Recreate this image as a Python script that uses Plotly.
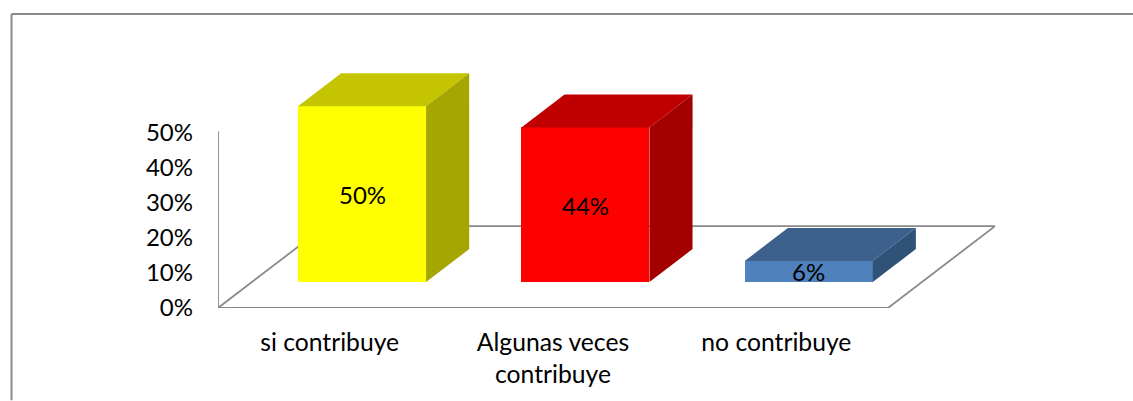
import plotly.graph_objects as go

categories = ["si contribuye", "Algunas veces<br>contribuye", "no contribuye"]
values = [50, 44, 6]
labels = ["50%", "44%", "6%"]
y_ticks = [0, 10, 20, 30, 40, 50]
y_tick_labels = ["0%", "10%", "20%", "30%", "40%", "50%"]
front_colors = ["#FFFF00", "#FF0000", "#4F81BD"]
top_colors = ["#C4C400", "#C00000", "#3C618D"]
side_colors = ["#A6A600", "#A30000", "#315278"]

W, H = 1133, 401
L, R, T, B = 218, 995, 14, 308.5
PX_X = 223.33          # pixels per category
PX_Y = 3.52            # pixels per percent
DX = 107 / PX_X        # floor depth in category units
DY = 82 / PX_Y         # floor depth in percent units
BAR_W = 128 / PX_X
BAR_NUDGE = -1.5 / PX_X
D0, D1 = 0.317, 0.72   # bar depth span as fraction of floor depth
LINE = "#8A8A8A"
FONT = "Lato, Carlito, Calibri, sans-serif"
FS_X = 24.7
FS_Y = 24
FS_L = 24


def proj(x, v, d):
    return x + d * DX, v + d * DY


fig = go.Figure()
xs = list(range(len(values)))

fig.add_trace(go.Bar(
    x=[i + BAR_NUDGE + D0 * DX for i in xs], y=values, base=D0 * DY, width=BAR_W,
    marker=dict(color=front_colors, line=dict(width=0)), showlegend=False,
    hoverinfo="skip",
))

for i, v in zip(xs, values):
    x0, x1 = i + BAR_NUDGE - BAR_W / 2, i + BAR_NUDGE + BAR_W / 2
    top = [proj(x0, v, D0), proj(x1, v, D0), proj(x1, v, D1), proj(x0, v, D1), proj(x0, v, D0)]
    side = [proj(x1, 0, D0), proj(x1, 0, D1), proj(x1, v, D1), proj(x1, v, D0), proj(x1, 0, D0)]
    for pts, col in ((top, top_colors[i]), (side, side_colors[i])):
        fig.add_trace(go.Scatter(
            x=[p[0] for p in pts], y=[p[1] for p in pts], mode="lines",
            fill="toself", fillcolor=col, line=dict(width=0), showlegend=False,
            hoverinfo="skip", cliponaxis=False,
        ))

# floor and vertical axis (behind bars)
floor = [proj(-0.5, 0, 0), proj(2.5, 0, 0), proj(2.5, 0, 1), proj(-0.5, 0, 1), proj(-0.5, 0, 0)]
shapes = []
for a, b in zip(floor[:-1], floor[1:]):
    shapes.append(dict(type="line", xref="x", yref="y", x0=a[0], y0=a[1], x1=b[0], y1=b[1],
                       line=dict(color=LINE, width=1.8), layer="below"))
shapes.append(dict(type="line", xref="x", yref="y", x0=-0.5, y0=0, x1=-0.5, y1=y_ticks[-1] + 0.3,
                   line=dict(color=LINE, width=1.8), layer="below"))

# outer frame (open at right and bottom, as cropped)
pw, ph = R - L, B - T
fx = lambda px: (px - L) / pw
fy = lambda py: (B - py) / ph
shapes.append(dict(type="line", xref="paper", yref="paper", x0=fx(11.5), y0=fy(14), x1=fx(W), y1=fy(14),
                   line=dict(color=LINE, width=2), layer="below"))
shapes.append(dict(type="line", xref="paper", yref="paper", x0=fx(11.5), y0=fy(14), x1=fx(11.5), y1=fy(H),
                   line=dict(color=LINE, width=2), layer="below"))

annotations = []
for i, v, t, sh in zip(xs, values, labels, [0, -1, 0.5]):
    cx, cy = proj(i + BAR_NUDGE, v / 2, D0)
    annotations.append(dict(x=cx, y=cy, xref="x", yref="y", text=t, showarrow=False, yshift=sh,
                            font=dict(family=FONT, size=FS_L, color="#000000")))

fig.update_layout(
    width=W, height=H, autosize=False,
    margin=dict(l=L, r=W - R, t=T, b=H - B, pad=0),
    paper_bgcolor="#FFFFFF", plot_bgcolor="rgba(0,0,0,0)",
    shapes=shapes, annotations=annotations, showlegend=False, bargap=0,
    xaxis=dict(range=[-0.5, -0.5 + pw / PX_X], tickvals=xs, ticktext=categories,
               showgrid=False, zeroline=False, showline=False, ticks="",
               tickfont=dict(family=FONT, size=FS_X, color="#000000"), ticklabelstandoff=17),
    yaxis=dict(range=[0, ph / PX_Y], tickvals=y_ticks, ticktext=y_tick_labels,
               showgrid=False, zeroline=False, showline=False, ticks="",
               tickfont=dict(family=FONT, size=FS_Y, color="#000000"), ticklabelstandoff=24),
)

fig.write_html("out.html", config={"displayModeBar": False},
               post_script="document.body.style.margin='0';document.documentElement.style.overflow='hidden';")
